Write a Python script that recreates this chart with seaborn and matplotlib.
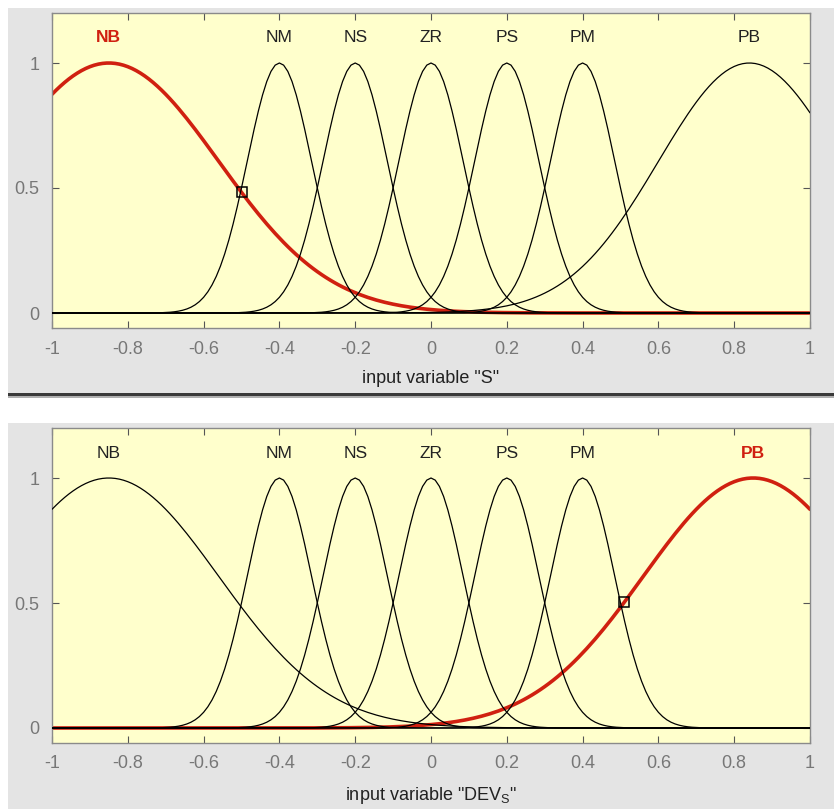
import numpy as np
import pandas as pd
import matplotlib
matplotlib.use("Agg")
import matplotlib.pyplot as plt
from matplotlib.patches import Rectangle
import seaborn as sns

# Membership function labels (same set for both input variables)
mf_names = ["NB", "NM", "NS", "ZR", "PS", "PM", "PB"]

# Gaussian membership functions of input "S": centres and spreads
s_centers = [-0.85, -0.40, -0.20, 0.00, 0.20, 0.40, 0.84]
s_sigmas = [0.29, 0.085, 0.085, 0.085, 0.085, 0.085, 0.24]
s_selected = "NB"
s_input = -0.50

# Gaussian membership functions of input "DEV_S"
dev_centers = [-0.85, -0.40, -0.20, 0.00, 0.20, 0.40, 0.85]
dev_sigmas = [0.29, 0.085, 0.085, 0.085, 0.085, 0.085, 0.29]
dev_selected = "PB"
dev_input = 0.51

x_ticks = [-1, -0.8, -0.6, -0.4, -0.2, 0, 0.2, 0.4, 0.6, 0.8, 1]
x_tick_labels = ["-1", "-0.8", "-0.6", "-0.4", "-0.2", "0", "0.2", "0.4", "0.6", "0.8", "1"]
y_ticks = [0, 0.5, 1]
y_tick_labels = ["0", "0.5", "1"]

sns.set_theme(style="ticks")
plt.rcParams["font.family"] = ["Liberation Sans", "DejaVu Sans"]

W, H = 834, 809
fig = plt.figure(figsize=(W / 100, H / 100), dpi=100)
fig.patch.set_facecolor("white")

PANEL = "#e4e4e4"
AX_BG = "#ffffcc"
RED = "#d02010"
TICK_C = "#777777"
TXT_C = "#222222"


def fx(px):
    return px / W


def fy(py):
    return 1 - py / H


# grey panels behind each axes and the separator line
fig.add_artist(Rectangle((fx(8), fy(393)), fx(826), 385 / H, transform=fig.transFigure,
                         facecolor=PANEL, edgecolor="none", zorder=0))
fig.add_artist(Rectangle((fx(8), fy(396)), fx(826), 3 / H, transform=fig.transFigure,
                         facecolor="#3a3a3a", edgecolor="none", zorder=1))
fig.add_artist(Rectangle((fx(8), fy(398)), fx(826), 2 / H, transform=fig.transFigure,
                         facecolor="#b0b0b0", edgecolor="none", zorder=1))
fig.add_artist(Rectangle((fx(8), 0), fx(826), fy(423), transform=fig.transFigure,
                         facecolor=PANEL, edgecolor="none", zorder=0))

x = np.linspace(-1, 1, 181)


def gauss(v, c, s):
    return np.exp(-((v - c) ** 2) / (2 * s ** 2))


def draw_panel(rect, centers, sigmas, selected, x_in, xlabel):
    ax = fig.add_axes(rect)
    ax.set_facecolor(AX_BG)
    rows = []
    for name, c, s in zip(mf_names, centers, sigmas):
        rows.append(pd.DataFrame({"x": x, "mu": gauss(x, c, s), "mf": name}))
    df = pd.concat(rows, ignore_index=True)
    sel = df[df["mf"] == selected]
    rest = df[df["mf"] != selected]
    sns.lineplot(data=sel, x="x", y="mu", color=RED, lw=2.6, ax=ax,
                 estimator=None, sort=False, zorder=2)
    sns.lineplot(data=rest, x="x", y="mu", units="mf", color="black", lw=0.9, ax=ax,
                 estimator=None, sort=False, zorder=3)
    i = mf_names.index(selected)
    mu_in = gauss(x_in, centers[i], sigmas[i])
    ax.plot([x_in], [mu_in], marker="s", ms=7, mfc="none", mec="black", mew=1.1, zorder=5)
    for name, c in zip(mf_names, centers):
        sel_flag = name == selected
        ax.text(c, 1.1, name, ha="center", va="center", fontsize=12.5,
                color=RED if sel_flag else TXT_C,
                fontweight="bold" if sel_flag else "normal")
    ax.set_xlim(-1, 1)
    ax.set_ylim(-0.06, 1.2)
    ax.set_xticks(x_ticks)
    ax.set_xticklabels(x_tick_labels)
    ax.set_yticks(y_ticks)
    ax.set_yticklabels(y_tick_labels)
    ax.tick_params(direction="in", length=5, width=0.8, color="#555555",
                   top=True, right=True, labelsize=13, labelcolor=TICK_C, pad=9)
    for sp in ax.spines.values():
        sp.set_color("#8a8a8a")
        sp.set_linewidth(1.0)
    ax.set_xlabel(xlabel, fontsize=13, color=TXT_C, labelpad=9)
    ax.set_ylabel("")
    return ax


draw_panel([fx(52), fy(328), fx(758), 315 / H], s_centers, s_sigmas, s_selected, s_input,
           'input variable "S"')
draw_panel([fx(52), fy(743), fx(758), 315 / H], dev_centers, dev_sigmas, dev_selected, dev_input,
           'input variable "DEV$_{\\mathregular{S}}$"')

fig.savefig("out.png", dpi=100, facecolor=fig.get_facecolor())
